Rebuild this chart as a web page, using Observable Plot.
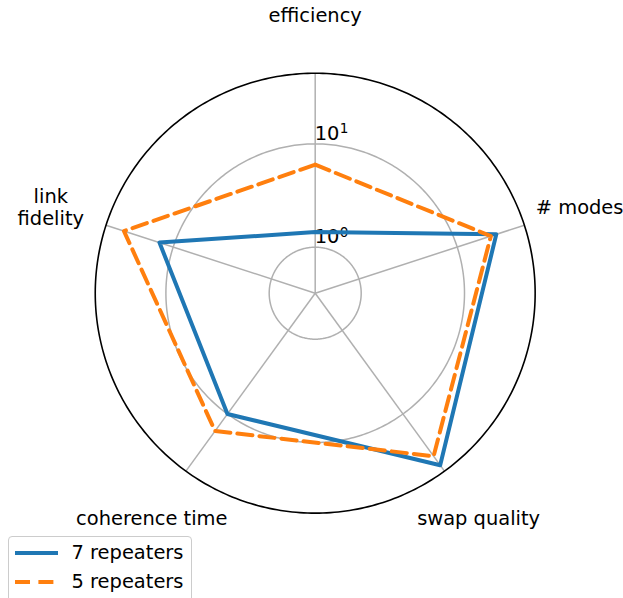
<!DOCTYPE html>
<html>
<head>
<meta charset="utf-8">
<script src="https://cdn.jsdelivr.net/npm/d3@7"></script>
<script src="https://cdn.jsdelivr.net/npm/@observablehq/plot@0.6"></script>
<style>
  html, body { margin: 0; padding: 0; background: #fff; }
  #wrap { position: relative; width: 623px; height: 598px; overflow: hidden; font-family: "DejaVu Sans", sans-serif; }
  #legend { position: absolute; left: 7.5px; top: 536px; width: 184px; height: 80px;
    border: 1.5px solid #cccccc; border-radius: 4px; background: rgba(255,255,255,0.8); box-sizing: border-box; }
  .entry { position: absolute; left: 0; font-size: 19.44px; color: #000; white-space: nowrap; }
  .entry svg { position: absolute; left: 4px; }
  .entry span { position: absolute; left: 63px; line-height: 20px; }
</style>
</head>
<body>
<div id="wrap"></div>
<script>
// ---- data ----
const categories = ["efficiency", "# modes", "swap quality", "coherence time", "link\nfidelity"];
const repeaters7 = [1.4, 25, 41, 10, 13.8];
const repeaters5 = [6.3, 22, 32, 16, 31.7];
const seriesNames = ["7 repeaters", "5 repeaters"];
const seriesColors = ["#1f77b4", "#ff7f0e"];
const tickValues = [1, 10];
const tickBases = ["10", "10"];
const tickExponents = ["0", "1"];
const rMinLog = -0.4453;   // log10 of value at the centre
const rMaxLog = 1.684;     // log10 of value at the outer circle

// ---- geometry helpers (radial log scale) ----
const W = 623, H = 598;
const pxPerDecade = 103.3;
const cx = 314.7, cy = 292.7;
const rad = v => Math.log10(v) - rMinLog;         // radius in decades
const outer = rMaxLog - rMinLog;
const n = categories.length;
const ang = i => (i * 2 * Math.PI) / n;            // clockwise from north
const px = (i, r) => r * Math.sin(ang(i));
const py = (i, r) => r * Math.cos(ang(i));

const rows = [];
[repeaters7, repeaters5].forEach((vals, s) => {
  vals.forEach((v, i) => rows.push({series: seriesNames[s], i, v, x: px(i, rad(v)), y: py(i, rad(v))}));
});

const circle = (r) => d3.range(0, 360, 1).map(a => ({x: r * Math.sin(a * Math.PI / 180), y: r * Math.cos(a * Math.PI / 180)}));
const gridRings = tickValues.flatMap(v => circle(rad(v)).map(p => ({...p, ring: v})));
const spokes = categories.map((c, i) => ({x1: 0, y1: 0, x2: px(i, outer), y2: py(i, outer)}));
const labelR = 278 / pxPerDecade;
const labels = categories.map((c, i) => ({label: c, x: px(i, labelR), y: py(i, labelR)}));
const ticks = tickValues.map((v, k) => ({base: tickBases[k], exp: tickExponents[k], x: 0, y: rad(v)}));

const plot = Plot.plot({
  width: W, height: H,
  marginTop: 0, marginRight: 0, marginBottom: 0, marginLeft: 0,
  style: {fontFamily: "DejaVu Sans", fontSize: "19.44px", background: "white", overflow: "visible"},
  x: {domain: [-cx / pxPerDecade, (W - cx) / pxPerDecade], range: [0, W], axis: null},
  y: {domain: [-(H - cy) / pxPerDecade, cy / pxPerDecade], range: [H, 0], axis: null},
  marks: [
    Plot.line(gridRings, {x: "x", y: "y", z: "ring", curve: "linear-closed", stroke: "#b0b0b0", strokeWidth: 1.5}),
    Plot.link(spokes, {x1: "x1", y1: "y1", x2: "x2", y2: "y2", stroke: "#b0b0b0", strokeWidth: 1.5}),
    Plot.line(circle(outer), {x: "x", y: "y", curve: "linear-closed", stroke: "black", strokeWidth: 1.6}),
    Plot.text(ticks, {x: "x", y: "y", text: "base", textAnchor: "start", lineAnchor: "middle", dx: -0.5, dy: -10.5, fill: "black", fontSize: 19.44}),
    Plot.text(ticks, {x: "x", y: "y", text: "exp", textAnchor: "start", lineAnchor: "middle", dx: 24.5, dy: -14.8, fill: "black", fontSize: 13.6}),
    Plot.line(rows.filter(d => d.series === seriesNames[0]), {x: "x", y: "y", curve: "linear-closed", stroke: seriesColors[0], strokeWidth: 4, strokeLinejoin: "round"}),
    Plot.line(rows.filter(d => d.series === seriesNames[1]), {x: "x", y: "y", curve: "linear-closed", stroke: seriesColors[1], strokeWidth: 4, strokeDasharray: "15.2,7", strokeLinejoin: "round"}),
    Plot.text(labels, {x: "x", y: "y", text: "label", textAnchor: "middle", lineAnchor: "middle", lineHeight: 1.12, fill: "black", fontSize: 19.44})
  ]
});

const wrap = document.getElementById("wrap");
wrap.appendChild(plot);

// legend (HTML)
const legend = document.createElement("div");
legend.id = "legend";
const entryTops = [16.3 - 10, 45 - 10];
seriesNames.forEach((name, s) => {
  const e = document.createElement("div");
  e.className = "entry";
  e.style.top = entryTops[s] + "px";
  const dash = s === 1 ? 'stroke-dasharray="15,8.4"' : '';
  e.innerHTML = `<svg width="46" height="20" style="top:0"><line x1="${s === 1 ? 2 : 2}" x2="${s === 1 ? 42 : 45}" y1="10" y2="10" stroke="${seriesColors[s]}" stroke-width="4" ${dash}/></svg><span style="top:0">${name}</span>`;
  legend.appendChild(e);
});
wrap.appendChild(legend);
</script>
</body>
</html>
